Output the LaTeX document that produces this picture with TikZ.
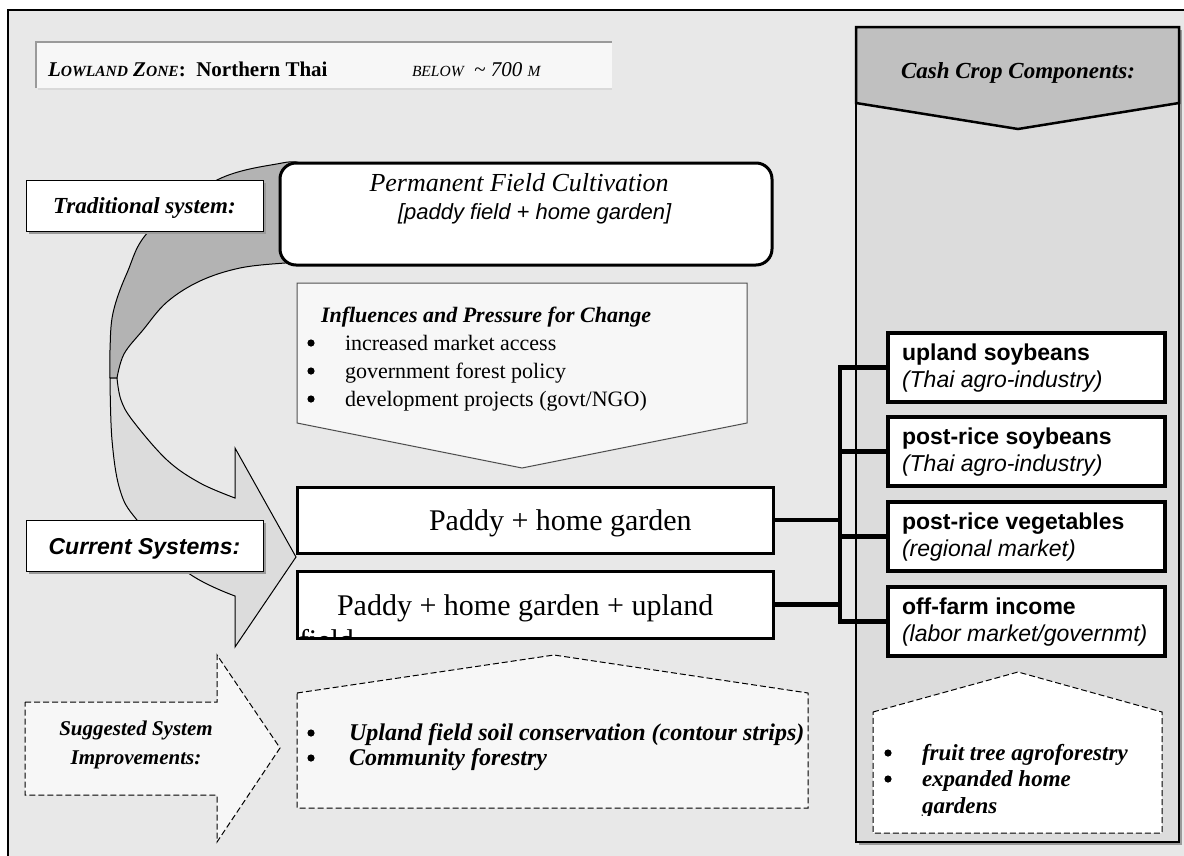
\documentclass[tikz,border=0pt]{standalone}
\usepackage{fontspec}
\setmainfont{Liberation Serif}
\setsansfont{Liberation Sans}
\usetikzlibrary{shadows}

\definecolor{bg}{HTML}{E8E8E8}
\definecolor{colfill}{HTML}{DCDCDC}
\definecolor{headfill}{HTML}{C0C0C0}
\definecolor{ribbondark}{HTML}{B3B3B3}
\definecolor{ribbonlight}{HTML}{DCDCDC}
\definecolor{paper}{HTML}{F7F7F7}
\definecolor{shadowgray}{HTML}{9A9A9A}
\definecolor{edgegray}{HTML}{505050}

\newcommand\pxsize[1]{\fontsize{#1}{#1}\selectfont}
\newcommand\smallcap[1]{{\fontsize{15.5}{18}\selectfont #1}}

\begin{document}
\begin{tikzpicture}[x=1pt,y=-1pt,
  every node/.style={inner sep=0pt, outer sep=0pt},
  boxthin/.style={draw=black, line width=1pt, fill=white,
    general shadow={fill=shadowgray, shadow xshift=2.5pt, shadow yshift=-2.5pt}},
  boxthick/.style={draw=black, line width=3pt, fill=white},
  cropbox/.style={draw=black, line width=3.5pt, fill=white},
  dashedbox/.style={draw=black, line width=1pt, dash pattern=on 6pt off 3pt},
  link/.style={line width=4.5pt},
  txt/.style={anchor=base west},
  ctxt/.style={anchor=base},
  dot/.style={fill=black}
]
\useasboundingbox (0,0) rectangle (1184,855);
\fill[white] (0,0) rectangle (1184,855);

% outer frame
\filldraw[fill=bg, draw=black, line width=1.2pt] (8,10) rectangle (1200,870);

% zone title bar
\fill[paper] (36,42) rectangle (612,88);
\draw[draw=shadowgray, line width=2.5pt] (36,88) -- (36,42) -- (612,42);
\draw[draw=white!85!black, line width=1.5pt] (38,89) -- (612,89);
\node[txt] (zone) at (48,76) {\pxsize{21}\bfseries\itshape L\smallcap{OWLAND} Z\smallcap{ONE}\upshape:\ \ Northern Thai};
\node[txt] (elev) at (412,76) {\pxsize{21}\itshape\smallcap{BELOW}\ \ \textasciitilde\ 700 \smallcap{M}};

% cash crop column
\filldraw[fill=colfill, draw=black, line width=1.5pt,
  general shadow={fill=shadowgray, shadow xshift=3pt, shadow yshift=-3pt}]
  (856,27) rectangle (1179,842);
\filldraw[fill=headfill, draw=black, line width=2.5pt, line join=miter]
  (856,27) -- (1179,27) -- (1179,103) -- (1018,129) -- (856,103) -- cycle;
\node[ctxt] (cashhead) at (1018,78) {\pxsize{23}\bfseries\itshape Cash Crop Components:};

% curved ribbon arrow: back (dark) part
\filldraw[fill=ribbondark, draw=black, line width=1pt, line join=round]
  plot[smooth, tension=0.6] coordinates {(300,163) (282,163) (217,180) (150,230) (127,273) (113,313) (110,350) (110,378)}
  -- (117,378)
  -- plot[smooth, tension=0.6] coordinates {(117,378) (124,354) (143,330) (167,302) (200,281) (240,268) (285,263) (300,263)}
  -- cycle;
% front (light) part with head
\filldraw[fill=ribbonlight, draw=black, line width=1pt, line join=miter]
  plot[smooth, tension=0.6] coordinates {(110,378) (112,440) (120,490) (137,520) (187,572) (235,596)}
  -- (235,647) -- (296,557) -- (235,448) -- (235,498)
  -- plot[smooth, tension=0.6] coordinates {(235,498) (200,483) (167,460) (133,421) (121,400) (117,378)}
  -- cycle;

% traditional system
\node[draw=black, line width=3pt, fill=white, rounded corners=16pt,
  minimum width=492pt, minimum height=102pt] (perm) at (526,214) {};
\node[ctxt] (permtitle) at (519,191) {\pxsize{26}\itshape Permanent Field Cultivation};
\node[txt] (permsub) at (398,219) {\pxsize{22}\sffamily\itshape [paddy field + home garden]};

\node[boxthin, minimum width=237pt, minimum height=51pt] (tradbox) at (144.5,205.5) {};
\node[ctxt] (tradlabel) at (144.5,213) {\pxsize{23}\bfseries\itshape Traditional system:};

% influences
\filldraw[fill=paper, draw=edgegray, line width=1pt]
  (297,283) -- (747,283) -- (747,423) -- (522,468) -- (297,423) -- cycle;
\node[txt] (inftitle) at (321,322) {\pxsize{22}\bfseries\itshape Influences and Pressure for Change};
\foreach \y in {343,371,399} \fill[dot] (311,\y) circle (3.6);
\node[txt] (inf1) at (345,350) {\pxsize{22}increased market access};
\node[txt] (inf2) at (345,378) {\pxsize{22}government forest policy};
\node[txt] (inf3) at (345,406) {\pxsize{22}development projects (govt/NGO)};

% current systems
\node[boxthick, minimum width=476pt, minimum height=66pt] (pad1) at (535,520) {};
\node[txt] (pad1text) at (429,530) {\pxsize{30}Paddy + home garden};
\node[boxthick, minimum width=476pt, minimum height=67pt] (pad2) at (535,604.5) {};
\node[txt] (pad2text) at (337,615) {\pxsize{30}Paddy + home garden + upland};
\begin{scope}
  \clip (299,572) rectangle (771,636.5);
  \node[txt] (pad2wrap) at (299,650) {\pxsize{30}field};
\end{scope}

\node[boxthin, minimum width=237pt, minimum height=51pt] (curbox) at (144.5,545.5) {};
\node[ctxt] (curlabel) at (144.5,554) {\pxsize{23}\sffamily\bfseries\itshape Current Systems:};

% cash crop components and their links
\coordinate (bus) at (840,0);
\node[cropbox, minimum width=277pt, minimum height=69pt] (r1) at (1026.5,367.5) {};
\node[cropbox, minimum width=277pt, minimum height=69pt] (r2) at (1026.5,451.5) {};
\node[cropbox, minimum width=277pt, minimum height=69pt] (r3) at (1026.5,536.5) {};
\node[cropbox, minimum width=277pt, minimum height=69pt] (r4) at (1026.5,621.5) {};
\draw[link, line join=miter] (r1.west) -- (r1.west -| bus) -- (r4.west -| bus) -- (r4.west);
\draw[link] (r2.west) -- (r2.west -| bus);
\draw[link] (r3.west) -- (r3.west -| bus);
\draw[link] (pad1.east) -- (pad1.east -| bus);
\draw[link] (pad2.east) -- (pad2.east -| bus);
\foreach \n in {r1,r2,r3,r4} \draw[black, line width=3.5pt] (\n.south west) rectangle (\n.north east);

\node[txt] (r1a) at (902,360) {\pxsize{23}\sffamily\bfseries upland soybeans};
\node[txt] (r1b) at (902,387) {\pxsize{23}\sffamily\itshape (Thai agro-industry)};
\node[txt] (r2a) at (902,444) {\pxsize{23}\sffamily\bfseries post-rice soybeans};
\node[txt] (r2b) at (902,471) {\pxsize{23}\sffamily\itshape (Thai agro-industry)};
\node[txt] (r3a) at (902,529) {\pxsize{23}\sffamily\bfseries post-rice vegetables};
\node[txt] (r3b) at (902,556) {\pxsize{23}\sffamily\itshape (regional market)};
\node[txt] (r4a) at (902,614) {\pxsize{23}\sffamily\bfseries off-farm income};
\node[txt] (r4b) at (902,641) {\pxsize{23}\sffamily\itshape (labor market/governmt)};

% suggested improvements
\filldraw[dashedbox, fill=paper]
  (25,702) -- (217,702) -- (217,655) -- (280,748) -- (217,842) -- (217,795) -- (25,795) -- cycle;
\node[ctxt] (sugg1) at (136,735) {\pxsize{21}\bfseries\itshape Suggested System};
\node[ctxt] (sugg2) at (136,764) {\pxsize{21}\bfseries\itshape Improvements:};

\filldraw[dashedbox, fill=paper]
  (297,693) -- (554,655) -- (808,693) -- (808,808) -- (297,808) -- cycle;
\foreach \y in {733,758} \fill[dot] (311,\y) circle (3.6);
\node[txt] (mid1) at (349,740) {\pxsize{24}\bfseries\itshape Upland field soil conservation (contour strips)};
\node[txt] (mid2) at (349,765) {\pxsize{24}\bfseries\itshape Community forestry};

\filldraw[dashedbox, fill=white]
  (873,712) -- (1018,672) -- (1162,712) -- (1162,833) -- (873,833) -- cycle;
\foreach \y in {753,779} \fill[dot] (888,\y) circle (3.6);
\begin{scope}
  \clip (875,714) rectangle (1160,815);
  \node[txt] (rt1) at (922,760) {\pxsize{23}\bfseries\itshape fruit tree agroforestry};
  \node[txt] (rt2) at (922,786.5) {\pxsize{23}\bfseries\itshape expanded home};
  \node[txt] (rt3) at (922,813) {\pxsize{23}\bfseries\itshape gardens};
\end{scope}
\end{tikzpicture}
\end{document}
